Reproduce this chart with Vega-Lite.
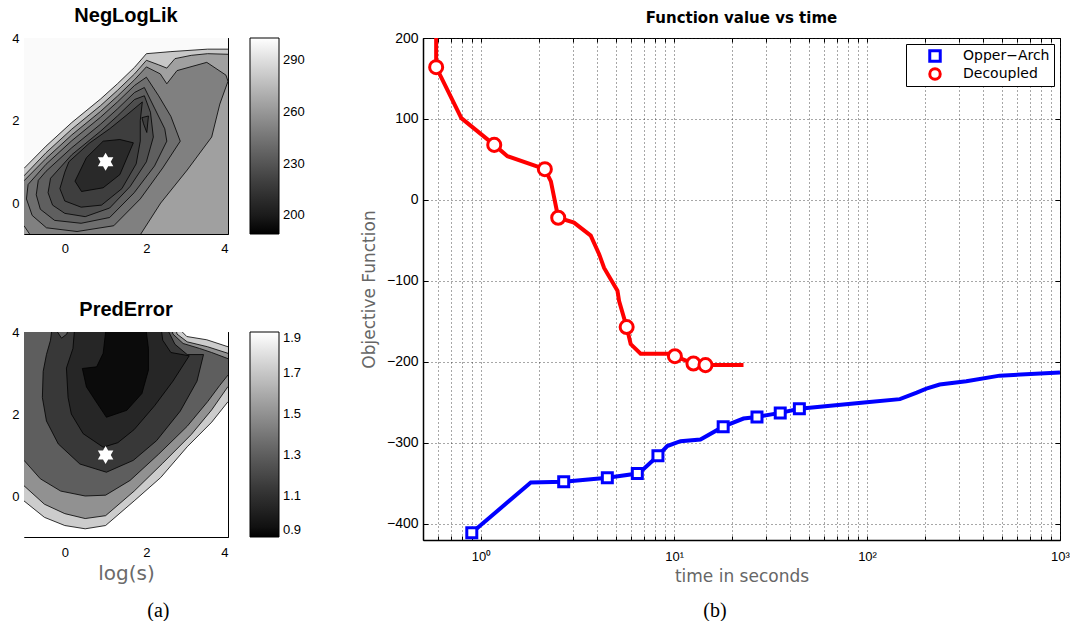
{
"$schema":"https://vega.github.io/schema/vega-lite/v6.json",
"background":"white",
"padding":{"left":11,"top":5,"right":0,"bottom":0},
"config":{
 "view":{"stroke":"black","strokeWidth":1},
 "axis":{"labelColor":"black","labelFont":"Liberation Sans","titleColor":"#666666","titleFontWeight":"normal","ticks":false,"domain":false,"grid":false},
 "title":{"color":"black"}
},
"datasets":{
"p1":[
{"p":"01","i":0,"x":-1.2,"y":-0.9,"v":301},{"p":"01","i":1,"x":4.2,"y":-0.9,"v":301},{"p":"01","i":2,"x":4.2,"y":4.2,"v":301},{"p":"01","i":3,"x":-1.2,"y":4.2,"v":301},{"p":"01","i":4,"x":-1.2,"y":-0.9,"v":301},
{"p":"02","i":0,"x":-1.2,"y":0.66,"v":281},{"p":"02","i":1,"x":-1.0,"y":0.84,"v":281},{"p":"02","i":2,"x":-0.46,"y":1.38,"v":281},{"p":"02","i":3,"x":0.17,"y":1.95,"v":281},{"p":"02","i":4,"x":0.875,"y":2.52,"v":281},{"p":"02","i":5,"x":1.29,"y":2.89,"v":281},{"p":"02","i":6,"x":1.71,"y":3.29,"v":281},{"p":"02","i":7,"x":2.0,"y":3.62,"v":281},{"p":"02","i":8,"x":2.6,"y":3.67,"v":281},{"p":"02","i":9,"x":3.5,"y":3.73,"v":281},{"p":"02","i":10,"x":4.2,"y":3.73,"v":281},{"p":"02","i":11,"x":4.2,"y":-0.9,"v":281},{"p":"02","i":12,"x":-1.2,"y":-0.9,"v":281},{"p":"02","i":13,"x":-1.2,"y":0.66,"v":281},
{"p":"03","i":0,"x":-1.2,"y":0.5,"v":264},{"p":"03","i":1,"x":-1.0,"y":0.66,"v":264},{"p":"03","i":2,"x":-0.46,"y":1.22,"v":264},{"p":"03","i":3,"x":0.17,"y":1.79,"v":264},{"p":"03","i":4,"x":0.875,"y":2.36,"v":264},{"p":"03","i":5,"x":1.29,"y":2.73,"v":264},{"p":"03","i":6,"x":1.71,"y":3.13,"v":264},{"p":"03","i":7,"x":2.0,"y":3.46,"v":264},{"p":"03","i":8,"x":2.3,"y":3.35,"v":264},{"p":"03","i":9,"x":2.5,"y":3.27,"v":264},{"p":"03","i":10,"x":2.7,"y":3.5,"v":264},{"p":"03","i":11,"x":3.1,"y":3.58,"v":264},{"p":"03","i":12,"x":3.5,"y":3.62,"v":264},{"p":"03","i":13,"x":4.2,"y":3.6,"v":264},{"p":"03","i":14,"x":4.2,"y":-0.9,"v":264},{"p":"03","i":15,"x":-1.2,"y":-0.9,"v":264},{"p":"03","i":16,"x":-1.2,"y":0.5,"v":264},
{"p":"04","i":0,"x":-1.2,"y":0.4,"v":250},{"p":"04","i":1,"x":-1.0,"y":0.54,"v":250},{"p":"04","i":2,"x":-0.46,"y":1.08,"v":250},{"p":"04","i":3,"x":0.17,"y":1.65,"v":250},{"p":"04","i":4,"x":0.875,"y":2.22,"v":250},{"p":"04","i":5,"x":1.29,"y":2.59,"v":250},{"p":"04","i":6,"x":1.71,"y":2.99,"v":250},{"p":"04","i":7,"x":2.0,"y":3.3,"v":250},{"p":"04","i":8,"x":2.34,"y":3.13,"v":250},{"p":"04","i":9,"x":2.5,"y":2.89,"v":250},{"p":"04","i":10,"x":2.75,"y":3.21,"v":250},{"p":"04","i":11,"x":3.48,"y":3.41,"v":250},{"p":"04","i":12,"x":3.95,"y":3.1,"v":250},{"p":"04","i":13,"x":4.0,"y":2.95,"v":250},{"p":"04","i":14,"x":3.8,"y":2.4,"v":250},{"p":"04","i":15,"x":3.6,"y":1.6,"v":250},{"p":"04","i":16,"x":3.0,"y":0.8,"v":250},{"p":"04","i":17,"x":2.35,"y":0.0,"v":250},{"p":"04","i":18,"x":1.85,"y":-0.77,"v":250},{"p":"04","i":19,"x":1.8,"y":-0.9,"v":250},{"p":"04","i":20,"x":-0.85,"y":-0.9,"v":250},{"p":"04","i":21,"x":-0.85,"y":-0.77,"v":250},{"p":"04","i":22,"x":-1.0,"y":-0.55,"v":250},{"p":"04","i":23,"x":-1.2,"y":-0.5,"v":250},{"p":"04","i":24,"x":-1.2,"y":0.4,"v":250},
{"p":"05","i":0,"x":2.0,"y":3.05,"v":242},{"p":"05","i":1,"x":2.3,"y":2.6,"v":242},{"p":"05","i":2,"x":2.6,"y":2.1,"v":242},{"p":"05","i":3,"x":2.83,"y":1.5,"v":242},{"p":"05","i":4,"x":2.4,"y":0.85,"v":242},{"p":"05","i":5,"x":1.85,"y":0.1,"v":242},{"p":"05","i":6,"x":1.2,"y":-0.55,"v":242},{"p":"05","i":7,"x":0.3,"y":-0.69,"v":242},{"p":"05","i":8,"x":-0.45,"y":-0.6,"v":242},{"p":"05","i":9,"x":-0.8,"y":-0.3,"v":242},{"p":"05","i":10,"x":-0.94,"y":0.1,"v":242},{"p":"05","i":11,"x":-0.9,"y":0.45,"v":242},{"p":"05","i":12,"x":-0.46,"y":0.94,"v":242},{"p":"05","i":13,"x":0.17,"y":1.51,"v":242},{"p":"05","i":14,"x":0.875,"y":2.08,"v":242},{"p":"05","i":15,"x":1.29,"y":2.45,"v":242},{"p":"05","i":16,"x":1.71,"y":2.85,"v":242},{"p":"05","i":17,"x":2.0,"y":3.05,"v":242},
{"p":"06","i":0,"x":1.95,"y":2.8,"v":235},{"p":"06","i":1,"x":2.2,"y":2.3,"v":235},{"p":"06","i":2,"x":2.45,"y":1.8,"v":235},{"p":"06","i":3,"x":2.5,"y":1.5,"v":235},{"p":"06","i":4,"x":2.2,"y":0.9,"v":235},{"p":"06","i":5,"x":1.7,"y":0.25,"v":235},{"p":"06","i":6,"x":1.1,"y":-0.35,"v":235},{"p":"06","i":7,"x":0.4,"y":-0.49,"v":235},{"p":"06","i":8,"x":-0.25,"y":-0.42,"v":235},{"p":"06","i":9,"x":-0.6,"y":-0.15,"v":235},{"p":"06","i":10,"x":-0.7,"y":0.2,"v":235},{"p":"06","i":11,"x":-0.65,"y":0.55,"v":235},{"p":"06","i":12,"x":-0.46,"y":0.77,"v":235},{"p":"06","i":13,"x":0.17,"y":1.34,"v":235},{"p":"06","i":14,"x":0.875,"y":1.91,"v":235},{"p":"06","i":15,"x":1.29,"y":2.28,"v":235},{"p":"06","i":16,"x":1.71,"y":2.68,"v":235},{"p":"06","i":17,"x":1.95,"y":2.8,"v":235},
{"p":"07","i":0,"x":1.95,"y":2.6,"v":227},{"p":"07","i":1,"x":2.1,"y":2.2,"v":227},{"p":"07","i":2,"x":2.17,"y":1.6,"v":227},{"p":"07","i":3,"x":2.0,"y":1.0,"v":227},{"p":"07","i":4,"x":1.6,"y":0.4,"v":227},{"p":"07","i":5,"x":1.1,"y":-0.12,"v":227},{"p":"07","i":6,"x":0.5,"y":-0.33,"v":227},{"p":"07","i":7,"x":0.0,"y":-0.25,"v":227},{"p":"07","i":8,"x":-0.3,"y":-0.05,"v":227},{"p":"07","i":9,"x":-0.41,"y":0.25,"v":227},{"p":"07","i":10,"x":-0.35,"y":0.6,"v":227},{"p":"07","i":11,"x":0.17,"y":1.17,"v":227},{"p":"07","i":12,"x":0.875,"y":1.74,"v":227},{"p":"07","i":13,"x":1.29,"y":2.11,"v":227},{"p":"07","i":14,"x":1.71,"y":2.51,"v":227},{"p":"07","i":15,"x":1.95,"y":2.6,"v":227},
{"p":"08","i":0,"x":1.9,"y":2.45,"v":219},{"p":"08","i":1,"x":1.85,"y":2.0,"v":219},{"p":"08","i":2,"x":1.85,"y":1.5,"v":219},{"p":"08","i":3,"x":1.75,"y":0.95,"v":219},{"p":"08","i":4,"x":1.4,"y":0.35,"v":219},{"p":"08","i":5,"x":0.9,"y":-0.05,"v":219},{"p":"08","i":6,"x":0.4,"y":-0.1,"v":219},{"p":"08","i":7,"x":0.0,"y":0.05,"v":219},{"p":"08","i":8,"x":-0.12,"y":0.35,"v":219},{"p":"08","i":9,"x":0.0,"y":0.75,"v":219},{"p":"08","i":10,"x":0.1,"y":1.0,"v":219},{"p":"08","i":11,"x":0.6,"y":1.45,"v":219},{"p":"08","i":12,"x":1.1,"y":1.8,"v":219},{"p":"08","i":13,"x":1.5,"y":2.12,"v":219},{"p":"08","i":14,"x":1.9,"y":2.45,"v":219},
{"p":"09","i":0,"x":1.89,"y":2.07,"v":219},{"p":"09","i":1,"x":2.05,"y":2.11,"v":219},{"p":"09","i":2,"x":2.01,"y":1.71,"v":219},{"p":"09","i":3,"x":1.93,"y":1.92,"v":219},{"p":"09","i":4,"x":1.89,"y":2.07,"v":219},
{"p":"10","i":0,"x":0.25,"y":0.53,"v":208},{"p":"10","i":1,"x":0.41,"y":0.28,"v":208},{"p":"10","i":2,"x":0.94,"y":0.37,"v":208},{"p":"10","i":3,"x":1.35,"y":0.69,"v":208},{"p":"10","i":4,"x":1.68,"y":1.46,"v":208},{"p":"10","i":5,"x":1.35,"y":1.54,"v":208},{"p":"10","i":6,"x":0.94,"y":1.5,"v":208},{"p":"10","i":7,"x":0.53,"y":1.1,"v":208},{"p":"10","i":8,"x":0.25,"y":0.53,"v":208}
],
"p2":[
{"p":"01","i":0,"x":-1.2,"y":-1.2,"v":1.9},{"p":"01","i":1,"x":4.2,"y":-1.2,"v":1.9},{"p":"01","i":2,"x":4.2,"y":4.2,"v":1.9},{"p":"01","i":3,"x":-1.2,"y":4.2,"v":1.9},{"p":"01","i":4,"x":-1.2,"y":-1.2,"v":1.9},
{"p":"02","i":0,"x":-1.2,"y":-0.02,"v":1.72},{"p":"02","i":1,"x":-1.0,"y":-0.12,"v":1.72},{"p":"02","i":2,"x":-0.5,"y":-0.52,"v":1.72},{"p":"02","i":3,"x":0.0,"y":-0.72,"v":1.72},{"p":"02","i":4,"x":0.5,"y":-0.8,"v":1.72},{"p":"02","i":5,"x":1.0,"y":-0.72,"v":1.72},{"p":"02","i":6,"x":1.7,"y":-0.12,"v":1.72},{"p":"02","i":7,"x":2.35,"y":0.45,"v":1.72},{"p":"02","i":8,"x":3.0,"y":1.2,"v":1.72},{"p":"02","i":9,"x":3.6,"y":1.8,"v":1.72},{"p":"02","i":10,"x":4.0,"y":2.3,"v":1.72},{"p":"02","i":11,"x":4.2,"y":2.4,"v":1.72},{"p":"02","i":12,"x":4.2,"y":3.6,"v":1.72},{"p":"02","i":13,"x":4.0,"y":3.64,"v":1.72},{"p":"02","i":14,"x":3.48,"y":3.81,"v":1.72},{"p":"02","i":15,"x":2.99,"y":3.89,"v":1.72},{"p":"02","i":16,"x":2.83,"y":4.05,"v":1.72},{"p":"02","i":17,"x":2.8,"y":4.2,"v":1.72},{"p":"02","i":18,"x":-1.2,"y":4.2,"v":1.72},{"p":"02","i":19,"x":-1.2,"y":-0.02,"v":1.72},
{"p":"03","i":0,"x":-1.2,"y":0.35,"v":1.5},{"p":"03","i":1,"x":-1.0,"y":0.25,"v":1.5},{"p":"03","i":2,"x":-0.5,"y":-0.2,"v":1.5},{"p":"03","i":3,"x":0.0,"y":-0.43,"v":1.5},{"p":"03","i":4,"x":0.5,"y":-0.55,"v":1.5},{"p":"03","i":5,"x":1.0,"y":-0.48,"v":1.5},{"p":"03","i":6,"x":1.7,"y":0.12,"v":1.5},{"p":"03","i":7,"x":2.4,"y":0.8,"v":1.5},{"p":"03","i":8,"x":3.1,"y":1.5,"v":1.5},{"p":"03","i":9,"x":3.6,"y":2.1,"v":1.5},{"p":"03","i":10,"x":4.0,"y":2.67,"v":1.5},{"p":"03","i":11,"x":4.2,"y":2.75,"v":1.5},{"p":"03","i":12,"x":4.2,"y":3.42,"v":1.5},{"p":"03","i":13,"x":4.0,"y":3.48,"v":1.5},{"p":"03","i":14,"x":3.5,"y":3.64,"v":1.5},{"p":"03","i":15,"x":3.0,"y":3.76,"v":1.5},{"p":"03","i":16,"x":2.75,"y":3.95,"v":1.5},{"p":"03","i":17,"x":2.7,"y":4.2,"v":1.5},{"p":"03","i":18,"x":-1.2,"y":4.2,"v":1.5},{"p":"03","i":19,"x":-1.2,"y":0.35,"v":1.5},
{"p":"04","i":0,"x":-1.2,"y":0.95,"v":1.3},{"p":"04","i":1,"x":-1.0,"y":0.87,"v":1.3},{"p":"04","i":2,"x":-0.6,"y":0.42,"v":1.3},{"p":"04","i":3,"x":-0.1,"y":0.12,"v":1.3},{"p":"04","i":4,"x":0.5,"y":0.0,"v":1.3},{"p":"04","i":5,"x":1.0,"y":0.02,"v":1.3},{"p":"04","i":6,"x":1.6,"y":0.38,"v":1.3},{"p":"04","i":7,"x":2.3,"y":1.02,"v":1.3},{"p":"04","i":8,"x":3.0,"y":1.7,"v":1.3},{"p":"04","i":9,"x":3.5,"y":2.3,"v":1.3},{"p":"04","i":10,"x":3.8,"y":2.7,"v":1.3},{"p":"04","i":11,"x":4.0,"y":2.95,"v":1.3},{"p":"04","i":12,"x":4.2,"y":3.0,"v":1.3},{"p":"04","i":13,"x":4.2,"y":3.3,"v":1.3},{"p":"04","i":14,"x":4.0,"y":3.35,"v":1.3},{"p":"04","i":15,"x":3.6,"y":3.5,"v":1.3},{"p":"04","i":16,"x":3.3,"y":3.6,"v":1.3},{"p":"04","i":17,"x":2.9,"y":3.72,"v":1.3},{"p":"04","i":18,"x":2.65,"y":3.95,"v":1.3},{"p":"04","i":19,"x":2.6,"y":4.2,"v":1.3},{"p":"04","i":20,"x":-1.2,"y":4.2,"v":1.3},{"p":"04","i":21,"x":-1.2,"y":0.95,"v":1.3},
{"p":"05","i":0,"x":-0.3,"y":4.2,"v":1.135},{"p":"05","i":1,"x":-0.35,"y":3.8,"v":1.135},{"p":"05","i":2,"x":-0.45,"y":3.45,"v":1.135},{"p":"05","i":3,"x":-0.53,"y":3.04,"v":1.135},{"p":"05","i":4,"x":-0.55,"y":2.4,"v":1.135},{"p":"05","i":5,"x":-0.45,"y":1.83,"v":1.135},{"p":"05","i":6,"x":-0.16,"y":1.27,"v":1.135},{"p":"05","i":7,"x":0.37,"y":0.78,"v":1.135},{"p":"05","i":8,"x":1.02,"y":0.58,"v":1.135},{"p":"05","i":9,"x":1.68,"y":0.87,"v":1.135},{"p":"05","i":10,"x":2.25,"y":1.35,"v":1.135},{"p":"05","i":11,"x":2.83,"y":2.07,"v":1.135},{"p":"05","i":12,"x":3.24,"y":2.8,"v":1.135},{"p":"05","i":13,"x":3.4,"y":3.45,"v":1.135},{"p":"05","i":14,"x":3.0,"y":3.45,"v":1.135},{"p":"05","i":15,"x":2.7,"y":3.7,"v":1.135},{"p":"05","i":16,"x":2.55,"y":4.0,"v":1.135},{"p":"05","i":17,"x":2.5,"y":4.2,"v":1.135},{"p":"05","i":18,"x":-0.3,"y":4.2,"v":1.135},
{"p":"06","i":0,"x":-0.22,"y":4.2,"v":1.3},{"p":"06","i":1,"x":-0.18,"y":4.0,"v":1.3},{"p":"06","i":2,"x":-0.08,"y":3.85,"v":1.3},{"p":"06","i":3,"x":0.05,"y":3.95,"v":1.3},{"p":"06","i":4,"x":0.12,"y":4.2,"v":1.3},{"p":"06","i":5,"x":-0.22,"y":4.2,"v":1.3},
{"p":"07","i":0,"x":0.25,"y":4.2,"v":1.05},{"p":"07","i":1,"x":0.2,"y":3.6,"v":1.05},{"p":"07","i":2,"x":0.04,"y":3.12,"v":1.05},{"p":"07","i":3,"x":0.08,"y":2.4,"v":1.05},{"p":"07","i":4,"x":0.16,"y":2.0,"v":1.05},{"p":"07","i":5,"x":0.45,"y":1.52,"v":1.05},{"p":"07","i":6,"x":0.94,"y":1.19,"v":1.05},{"p":"07","i":7,"x":1.3,"y":1.3,"v":1.05},{"p":"07","i":8,"x":1.7,"y":1.62,"v":1.05},{"p":"07","i":9,"x":2.2,"y":2.2,"v":1.05},{"p":"07","i":10,"x":2.65,"y":2.8,"v":1.05},{"p":"07","i":11,"x":3.05,"y":3.42,"v":1.05},{"p":"07","i":12,"x":2.6,"y":3.5,"v":1.05},{"p":"07","i":13,"x":2.4,"y":3.8,"v":1.05},{"p":"07","i":14,"x":2.35,"y":4.2,"v":1.05},{"p":"07","i":15,"x":0.25,"y":4.2,"v":1.05},
{"p":"08","i":0,"x":1.02,"y":4.2,"v":0.93},{"p":"08","i":1,"x":1.0,"y":4.0,"v":0.93},{"p":"08","i":2,"x":0.94,"y":3.48,"v":0.93},{"p":"08","i":3,"x":0.78,"y":3.15,"v":0.93},{"p":"08","i":4,"x":0.43,"y":3.11,"v":0.93},{"p":"08","i":5,"x":0.53,"y":2.66,"v":0.93},{"p":"08","i":6,"x":0.74,"y":2.34,"v":0.93},{"p":"08","i":7,"x":1.02,"y":1.92,"v":0.93},{"p":"08","i":8,"x":1.52,"y":2.09,"v":0.93},{"p":"08","i":9,"x":1.89,"y":2.5,"v":0.93},{"p":"08","i":10,"x":2.05,"y":3.07,"v":0.93},{"p":"08","i":11,"x":2.05,"y":3.6,"v":0.93},{"p":"08","i":12,"x":2.0,"y":4.0,"v":0.93},{"p":"08","i":13,"x":2.0,"y":4.2,"v":0.93},{"p":"08","i":14,"x":1.02,"y":4.2,"v":0.93}
],
"star":[{"x":1,"y":1}],
"ts":[
{"s":"Decoupled","k":0,"t":0.585,"v":260,"m":0},{"s":"Decoupled","k":1,"t":0.585,"v":164,"m":1},{"s":"Decoupled","k":2,"t":0.79,"v":101,"m":0},{"s":"Decoupled","k":3,"t":1.17,"v":68,"m":1},{"s":"Decoupled","k":4,"t":1.37,"v":54,"m":0},{"s":"Decoupled","k":5,"t":2.14,"v":38,"m":1},{"s":"Decoupled","k":6,"t":2.3,"v":23,"m":0},{"s":"Decoupled","k":7,"t":2.51,"v":-22,"m":1},{"s":"Decoupled","k":8,"t":3.03,"v":-28,"m":0},{"s":"Decoupled","k":9,"t":3.7,"v":-44,"m":0},{"s":"Decoupled","k":10,"t":4.09,"v":-67,"m":0},{"s":"Decoupled","k":11,"t":4.34,"v":-84,"m":0},{"s":"Decoupled","k":12,"t":5.09,"v":-112,"m":0},{"s":"Decoupled","k":13,"t":5.19,"v":-125,"m":0},{"s":"Decoupled","k":14,"t":5.68,"v":-157,"m":1},{"s":"Decoupled","k":15,"t":5.96,"v":-178,"m":0},{"s":"Decoupled","k":16,"t":6.71,"v":-190,"m":0},{"s":"Decoupled","k":17,"t":9.6,"v":-190,"m":0},{"s":"Decoupled","k":18,"t":10.1,"v":-193,"m":1},{"s":"Decoupled","k":19,"t":12.6,"v":-202,"m":1},{"s":"Decoupled","k":20,"t":14.55,"v":-204,"m":1},{"s":"Decoupled","k":21,"t":22.9,"v":-204,"m":0},
{"s":"Opper−Arch","k":0,"t":0.895,"v":-411,"m":1},{"s":"Opper−Arch","k":1,"t":1.81,"v":-349,"m":0},{"s":"Opper−Arch","k":2,"t":2.68,"v":-348,"m":1},{"s":"Opper−Arch","k":3,"t":4.51,"v":-343,"m":1},{"s":"Opper−Arch","k":4,"t":6.45,"v":-338,"m":1},{"s":"Opper−Arch","k":5,"t":6.98,"v":-332,"m":0},{"s":"Opper−Arch","k":6,"t":8.25,"v":-316,"m":1},{"s":"Opper−Arch","k":7,"t":9.22,"v":-304,"m":0},{"s":"Opper−Arch","k":8,"t":10.8,"v":-298,"m":0},{"s":"Opper−Arch","k":9,"t":13.7,"v":-296,"m":0},{"s":"Opper−Arch","k":10,"t":17.97,"v":-280,"m":1},{"s":"Opper−Arch","k":11,"t":22.9,"v":-270,"m":0},{"s":"Opper−Arch","k":12,"t":26.9,"v":-268,"m":1},{"s":"Opper−Arch","k":13,"t":35.5,"v":-263,"m":1},{"s":"Opper−Arch","k":14,"t":44.6,"v":-258,"m":1},{"s":"Opper−Arch","k":15,"t":99.6,"v":-250,"m":0},{"s":"Opper−Arch","k":16,"t":148,"v":-246,"m":0},{"s":"Opper−Arch","k":17,"t":181,"v":-238,"m":0},{"s":"Opper−Arch","k":18,"t":203,"v":-233,"m":0},{"s":"Opper−Arch","k":19,"t":238,"v":-228,"m":0},{"s":"Opper−Arch","k":20,"t":327,"v":-224,"m":0},{"s":"Opper−Arch","k":21,"t":487,"v":-217,"m":0},{"s":"Opper−Arch","k":22,"t":1000,"v":-213,"m":0}
]
},
"hconcat":[
{
 "vconcat":[
  {
   "width":204,"height":196,
   "title":{"text":"NegLogLik","font":"Liberation Sans","fontSize":20,"fontWeight":"bold","anchor":"middle","frame":"group","offset":6},
   "layer":[
    {"data":{"name":"p1"},
     "mark":{"type":"line","stroke":"black","strokeWidth":0.8,"clip":true},
     "encoding":{
      "x":{"field":"x","type":"quantitative","scale":{"domain":[-1,4],"nice":false,"zero":false},"axis":{"orient":"bottom","values":[0,2,4],"title":null,"labelFontSize":13,"labelPadding":12,"ticks":true,"tickSize":-4,"tickColor":"black"}},
      "y":{"field":"y","type":"quantitative","scale":{"domain":[-0.75,4],"nice":false,"zero":false},"axis":{"orient":"left","values":[0,2,4],"title":null,"labelFontSize":13,"labelPadding":9,"ticks":true,"tickSize":-4,"tickColor":"black"}},
      "detail":{"field":"p"},
      "order":{"field":"i"},
      "fill":{"field":"v","type":"quantitative","scale":{"domain":[189,303],"range":["#000000","#ffffff"],"nice":false,"zero":false},
       "legend":{"title":null,"values":[200,230,260,290],"format":"d","gradientLength":196,"gradientThickness":29,"offset":21,"labelFont":"Liberation Sans","labelFontSize":13,"labelColor":"black","labelOffset":4,"gradientStrokeColor":"black","gradientStrokeWidth":1,"padding":0,"orient":"right","direction":"vertical"}}
     }},
    {"data":{"name":"star"},
     "mark":{"type":"point","shape":"M0,-1L0.289,-0.5L0.866,-0.5L0.577,0L0.866,0.5L0.289,0.5L0,1L-0.289,0.5L-0.866,0.5L-0.577,0L-0.866,-0.5L-0.289,-0.5Z","size":320,"filled":true,"color":"white","opacity":1,"strokeWidth":0},
     "encoding":{
      "x":{"field":"x","type":"quantitative","scale":{"domain":[-1,4],"nice":false,"zero":false},"axis":{"orient":"top","values":[0,2,4],"title":null,"labels":false,"ticks":true,"tickSize":-4,"tickColor":"black"}},
      "y":{"field":"y","type":"quantitative","scale":{"domain":[-0.75,4],"nice":false,"zero":false},"axis":{"orient":"right","values":[0,2,4],"title":null,"labels":false,"ticks":true,"tickSize":-4,"tickColor":"black"}}
     }}
   ],
   "resolve":{"axis":{"x":"independent","y":"independent"}}
  },
  {
   "width":204,"height":205,
   "title":{"text":"PredError","font":"Liberation Sans","fontSize":20,"fontWeight":"bold","anchor":"middle","frame":"group","offset":6},
   "layer":[
    {"data":{"name":"p2"},
     "mark":{"type":"line","stroke":"black","strokeWidth":0.8,"clip":true},
     "encoding":{
      "x":{"field":"x","type":"quantitative","scale":{"domain":[-1,4],"nice":false,"zero":false},"axis":{"orient":"bottom","values":[0,2,4],"title":"log(s)","labelFontSize":13,"labelPadding":13,"ticks":true,"tickSize":-4,"tickColor":"black","titleFont":"DejaVu Sans","titleFontSize":20,"titleColor":"#6a6a6a","titlePadding":4}},
      "y":{"field":"y","type":"quantitative","scale":{"domain":[-1,4],"nice":false,"zero":false},"axis":{"orient":"left","values":[0,2,4],"title":null,"labelFontSize":13,"labelPadding":9,"ticks":true,"tickSize":-4,"tickColor":"black"}},
      "detail":{"field":"p"},
      "order":{"field":"i"},
      "fill":{"field":"v","type":"quantitative","scale":{"domain":[0.9,1.9],"range":["#000000","#ffffff"],"nice":false,"zero":false},
       "legend":{"title":null,"values":[0.9,1.1,1.3,1.5,1.7,1.9],"format":".1f","gradientLength":205,"gradientThickness":29,"offset":21,"labelFont":"Liberation Sans","labelFontSize":13,"labelColor":"black","labelOffset":4,"gradientStrokeColor":"black","gradientStrokeWidth":1,"padding":0,"orient":"right","direction":"vertical"}}
     }},
    {"data":{"name":"star"},
     "mark":{"type":"point","shape":"M0,-1L0.289,-0.5L0.866,-0.5L0.577,0L0.866,0.5L0.289,0.5L0,1L-0.289,0.5L-0.866,0.5L-0.577,0L-0.866,-0.5L-0.289,-0.5Z","size":320,"filled":true,"color":"white","opacity":1,"strokeWidth":0},
     "encoding":{
      "x":{"field":"x","type":"quantitative","scale":{"domain":[-1,4],"nice":false,"zero":false},"axis":{"orient":"top","values":[0,2,4],"title":null,"labels":false,"ticks":true,"tickSize":-4,"tickColor":"black"}},
      "y":{"field":"y","type":"quantitative","scale":{"domain":[-1,4],"nice":false,"zero":false},"axis":{"orient":"right","values":[0,2,4],"title":null,"labels":false,"ticks":true,"tickSize":-4,"tickColor":"black"}}
     }}
   ],
   "resolve":{"axis":{"x":"independent","y":"independent"}}
  }
 ],
 "spacing":98,
 "bounds":"flush",
 "resolve":{"scale":{"fill":"independent"},"legend":{"fill":"independent"}},
 "title":{"text":"(a)","orient":"bottom","anchor":"middle","font":"Liberation Serif","fontSize":20,"fontWeight":"normal","offset":17}
},
{
 "vconcat":[
  {
   "width":637,"height":502,
   "title":{"text":"Function value vs time","font":"DejaVu Sans","fontSize":15,"fontWeight":"bold","anchor":"middle","frame":"group","offset":5},
   "data":{"name":"ts"},
   "layer":[
    {"mark":{"type":"line","strokeWidth":4,"clip":true},
     "encoding":{
      "x":{"field":"t","type":"quantitative","scale":{"type":"log","domain":[0.5,1000],"nice":false},
       "axis":{"orient":"bottom","title":"time in seconds","values":[0.6,0.7,0.8,0.9,1,2,3,4,5,6,7,8,9,10,20,30,40,50,60,70,80,90,100,200,300,400,500,600,700,800,900,1000],
        "labelExpr":"datum.value == 1 ? '10⁰' : datum.value == 10 ? '10¹' : datum.value == 100 ? '10²' : datum.value == 1000 ? '10³' : ''",
        "grid":true,"gridColor":"#222222","gridDash":[1,3],"gridWidth":0.8,"gridOpacity":1,
        "domain":true,"domainColor":"black","domainWidth":1.5,
        "ticks":true,"tickSize":-4,"tickColor":"black","tickWidth":1,
        "labelFont":"Liberation Sans","labelFontSize":13,"labelPadding":14,"labelOverlap":false,"labelFlush":false,"labelBound":false,
        "titleFont":"DejaVu Sans","titleFontSize":17,"titlePadding":5,"titleColor":"#666666"}},
      "y":{"field":"v","type":"quantitative","scale":{"domain":[-420,200],"nice":false,"zero":false},
       "axis":{"orient":"left","title":"Objective Function","values":[-400,-300,-200,-100,0,100,200],
        "grid":true,"gridColor":"#222222","gridDash":[1,3],"gridWidth":0.8,"gridOpacity":1,
        "domain":true,"domainColor":"black","domainWidth":1.5,
        "ticks":true,"tickSize":-5,"tickColor":"black","tickWidth":1,
        "labelFont":"Liberation Sans","labelFontSize":14,"labelPadding":10,
        "titleFont":"DejaVu Sans","titleFontSize":17,"titlePadding":8,"titleColor":"#666666"}},
      "detail":{"field":"s"},
      "color":{"condition":{"test":"datum.s === 'Decoupled'","value":"#ff0000"},"value":"#0000ff"},
      "order":{"field":"k"}
     }},
    {"transform":[{"filter":"datum.m == 1"}],
     "mark":{"type":"point","fill":"white","fillOpacity":1,"strokeWidth":3,"opacity":1,"clip":true},
     "encoding":{
      "x":{"field":"t","type":"quantitative","scale":{"type":"log","domain":[0.5,1000],"nice":false},
       "axis":{"orient":"top","title":null,"labels":false,"grid":false,"domain":false,"ticks":true,"tickSize":-4,"tickColor":"black","tickWidth":1,
        "values":[0.6,0.7,0.8,0.9,1,2,3,4,5,6,7,8,9,10,20,30,40,50,60,70,80,90,100,200,300,400,500,600,700,800,900,1000]}},
      "y":{"field":"v","type":"quantitative","scale":{"domain":[-420,200],"nice":false,"zero":false},
       "axis":{"orient":"right","title":null,"labels":false,"grid":false,"domain":false,"ticks":true,"tickSize":-5,"tickColor":"black","tickWidth":1,
        "values":[-400,-300,-200,-100,0,100,200]}},
      "stroke":{"field":"s","type":"nominal","scale":{"domain":["Opper−Arch","Decoupled"],"range":["#0000ff","#ff0000"]},
       "legend":{"title":null,"orient":"top-right","offset":6,"fillColor":"white","strokeColor":"black","padding":4,"labelFont":"DejaVu Sans","labelFontSize":14,"labelColor":"black","symbolStrokeWidth":3,"symbolSize":110,"symbolOffset":18,"labelOffset":21,"rowPadding":2,"clipHeight":16,"symbolFillColor":"white"}},
      "shape":{"field":"s","type":"nominal","scale":{"domain":["Opper−Arch","Decoupled"],"range":["square","circle"]},
       "legend":{"title":null,"orient":"top-right","offset":6,"fillColor":"white","strokeColor":"black","padding":4,"labelFont":"DejaVu Sans","labelFontSize":14,"labelColor":"black","symbolStrokeWidth":3,"symbolSize":110,"symbolOffset":18,"labelOffset":21,"rowPadding":2,"clipHeight":16,"symbolFillColor":"white"}},
      "size":{"condition":{"test":"datum.s === 'Decoupled'","value":170},"value":100}
     }}
   ],
   "resolve":{"axis":{"x":"independent","y":"independent"}}
  }
 ],
 "bounds":"flush",
 "resolve":{"scale":{"stroke":"independent","shape":"independent"},"legend":{"stroke":"independent","shape":"independent"}},
 "title":{"text":"(b)","orient":"bottom","anchor":"middle","font":"Liberation Serif","fontSize":20,"fontWeight":"normal","offset":16}
}
],
"spacing":399,
"bounds":"flush",
"resolve":{"scale":{"stroke":"independent","shape":"independent","fill":"independent"},"legend":{"stroke":"independent","shape":"independent","fill":"independent"}}
}
